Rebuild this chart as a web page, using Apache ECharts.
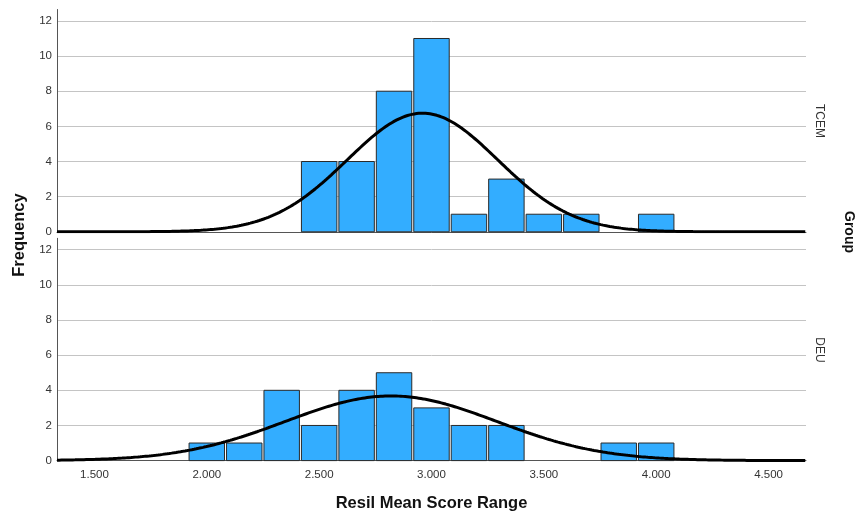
<!DOCTYPE html>
<html>
<head>
<meta charset="utf-8">
<script src="https://cdn.jsdelivr.net/npm/echarts@6/dist/echarts.min.js"></script>
<style>
  html, body { margin: 0; padding: 0; background: #fff; }
  #chart { width: 857px; height: 513px; }
</style>
</head>
<body>
<div id="chart"></div>
<script>
// Histogram bins of the resilience mean score (bin centres, width 1/6)
const binCenters = [2.0, 2.1667, 2.3333, 2.5, 2.6667, 2.8333, 3.0, 3.1667, 3.3333, 3.5, 3.6667, 3.8333, 4.0];
const binWidth = 1 / 6;

// Frequencies per group
const countsTCEM = [0, 0, 0, 4, 4, 8, 11, 1, 3, 1, 1, 0, 1];
const countsDEU  = [1, 1, 4, 2, 4, 5, 3, 2, 2, 0, 0, 1, 1];

// Normal-curve parameters per group
const meanTCEM = 2.96, sdTCEM = 0.335;
const meanDEU  = 2.82, sdDEU  = 0.47;

// Axis tick values
const xTicks = [1.5, 2.0, 2.5, 3.0, 3.5, 4.0, 4.5];
const yTicks = [0, 2, 4, 6, 8, 10, 12];
const xMin = 4 / 3, xMax = 14 / 3, yMax = 12.65;

const FONT = "'Liberation Sans', Arial, sans-serif";

function binData(counts) {
  const out = [];
  counts.forEach((n, i) => { if (n > 0) out.push([binCenters[i], n]); });
  return out;
}

// Fitted normal density scaled to the histogram (count x bin width)
function normalCurve(mean, sd, counts) {
  const total = counts.reduce((a, b) => a + b, 0);
  const scale = total * binWidth / (sd * Math.sqrt(2 * Math.PI));
  const pts = [];
  for (let x = xMin; x <= xMax + 1e-9; x += 0.01) {
    const z = (x - mean) / sd;
    pts.push([x, scale * Math.exp(-0.5 * z * z)]);
  }
  return pts;
}

function renderBar(params, api) {
  const c = api.value(0), n = api.value(1);
  const p0 = api.coord([c - binWidth / 2, n]);
  const p1 = api.coord([c + binWidth / 2, 0]);
  return {
    type: 'rect',
    shape: { x: p0[0] + 1, y: p0[1], width: p1[0] - p0[0] - 2, height: p1[1] - p0[1] },
    style: { fill: '#33adff', stroke: '#2a2a2a', lineWidth: 1 }
  };
}

function xAxis(gridIndex, showLabels) {
  return {
    type: 'value', gridIndex, min: xMin, max: xMax,
    axisLine: { show: true, onZero: false, lineStyle: { color: '#555', width: 1 } },
    axisTick: { show: false, customValues: xTicks },
    splitLine: { show: false },
    axisLabel: {
      show: showLabels, customValues: xTicks, margin: 8,
      color: '#333', fontSize: 11.5, fontFamily: FONT,
      formatter: v => v.toFixed(3)
    }
  };
}

function yAxis(gridIndex) {
  return {
    type: 'value', gridIndex, min: 0, max: yMax,
    axisLine: { show: true, lineStyle: { color: '#555', width: 1 } },
    axisTick: { show: false, customValues: yTicks },
    splitLine: { show: true, lineStyle: { color: '#c4c4c4', width: 1 } },
    axisLabel: {
      customValues: yTicks, margin: 5,
      color: '#333', fontSize: 11.5, fontFamily: FONT
    }
  };
}

const chart = echarts.init(document.getElementById('chart'), null, { renderer: 'canvas' });

chart.setOption({
  animation: false,
  backgroundColor: '#fff',
  grid: [
    { left: 57, width: 749, top: 9.5, height: 222.3 },
    { left: 57, width: 749, top: 238.3, height: 222.3 }
  ],
  xAxis: [xAxis(0, false), xAxis(1, true)],
  yAxis: [yAxis(0), yAxis(1)],
  series: [
    { type: 'custom', name: 'TCEM', xAxisIndex: 0, yAxisIndex: 0, renderItem: renderBar, data: binData(countsTCEM), z: 2 },
    { type: 'custom', name: 'DEU', xAxisIndex: 1, yAxisIndex: 1, renderItem: renderBar, data: binData(countsDEU), z: 2 },
    { type: 'line', xAxisIndex: 0, yAxisIndex: 0, data: normalCurve(meanTCEM, sdTCEM, countsTCEM),
      showSymbol: false, lineStyle: { color: '#000', width: 3 }, z: 3, silent: true },
    { type: 'line', xAxisIndex: 1, yAxisIndex: 1, data: normalCurve(meanDEU, sdDEU, countsDEU),
      showSymbol: false, lineStyle: { color: '#000', width: 3 }, z: 3, silent: true }
  ],
  graphic: [
    { type: 'text', x: 431.5, y: 503, style: { text: 'Resil Mean Score Range', font: 'bold 16.5px ' + FONT, fill: '#111', align: 'center', verticalAlign: 'middle' } },
    { type: 'text', x: 19, y: 235, rotation: Math.PI / 2, style: { text: 'Frequency', font: 'bold 16.5px ' + FONT, fill: '#111', align: 'center', verticalAlign: 'middle' } },
    { type: 'text', x: 849, y: 232, rotation: -Math.PI / 2, style: { text: 'Group', font: 'bold 14px ' + FONT, fill: '#111', align: 'center', verticalAlign: 'middle' } },
    { type: 'text', x: 819, y: 121, rotation: -Math.PI / 2, style: { text: 'TCEM', font: '12px ' + FONT, fill: '#333', align: 'center', verticalAlign: 'middle' } },
    { type: 'text', x: 819, y: 350, rotation: -Math.PI / 2, style: { text: 'DEU', font: '12px ' + FONT, fill: '#333', align: 'center', verticalAlign: 'middle' } }
  ]
});
</script>
</body>
</html>
